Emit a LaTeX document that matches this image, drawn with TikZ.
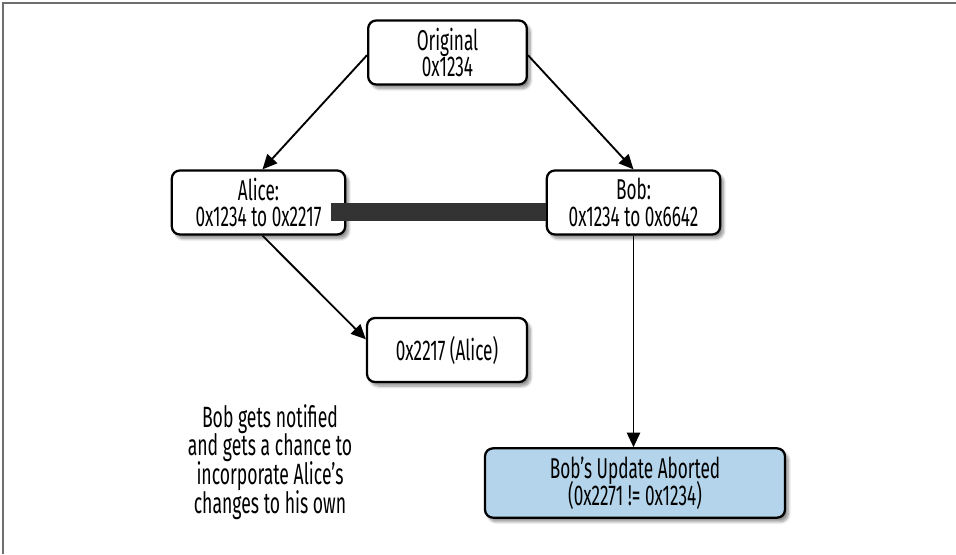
\documentclass[tikz,border=0pt]{standalone}
\usepackage{fontspec}
\setmainfont{Fira Sans}[FakeStretch=0.6]
\usetikzlibrary{arrows.meta,shadows.blur}
\definecolor{abortblue}{HTML}{B3D4EA}
\definecolor{barcol}{HTML}{333333}
\definecolor{framecol}{HTML}{6E6E6E}
\tikzset{
  tightlines/.code={\lineskiplimit=-20pt\lineskip=0pt},
  statebox/.style={draw=black, line width=1.7pt, rounded corners=6pt, fill=white,
    align=center, inner sep=0pt, font=\fontsize{21.5}{20}\selectfont, tightlines,
    blur shadow={shadow xshift=2.5pt, shadow yshift=-3pt, shadow blur steps=8,
      shadow blur extra rounding=2pt, shadow opacity=45}},
  flow/.style={line width=1.4pt, -{Triangle[length=11pt,width=10pt]}},
  note/.style={align=center, font=\fontsize{22}{21.5}\selectfont, tightlines}
}
\begin{document}
\begin{tikzpicture}[x=0.75pt, y=-0.75pt]
  \useasboundingbox (0,0) rectangle (956,554);
  % page frame
  \draw[framecol, line width=1.2pt] (3,554) -- (3,3) -- (956,3);

  % version states
  \node[statebox, minimum width=119pt, minimum height=48pt] (orig) at (447.5,52.5)
    {Original\\0x1234};
  \node[statebox, minimum width=130pt, minimum height=48pt] (alice) at (258.5,202.5)
    {Alice:\\0x1234 to 0x2217};
  \node[statebox, minimum width=130pt, minimum height=48pt] (bob) at (633.5,202.5)
    {Bob:\\0x1234 to 0x6642};
  \node[statebox, minimum width=120pt, minimum height=48pt] (res) at (447,350)
    {0x2217 (Alice)};
  \node[statebox, fill=abortblue, minimum width=225pt, minimum height=52pt] (abort) at (635,483)
    {Bob’s Update Aborted\\(0x2271 != 0x1234)};

  % bar between the two concurrent edits
  \fill[barcol] (331,203) rectangle (bob.west |- 0,221);

  \node[note] (msg) at (270,462)
    {Bob gets notified\\and gets a chance to\\incorporate Alice’s\\changes to his own};

  % transitions
  \draw[flow] ([yshift=-2pt]orig.west) -- ([xshift=3pt]alice.north);
  \draw[flow] ([yshift=-2pt]orig.east) -- (bob.north);
  \draw[flow] ([xshift=3pt]alice.south) -- ([yshift=8pt]res.west);
  \draw[flow] (bob.south) -- (bob.south |- abort.north);
\end{tikzpicture}
\end{document}
